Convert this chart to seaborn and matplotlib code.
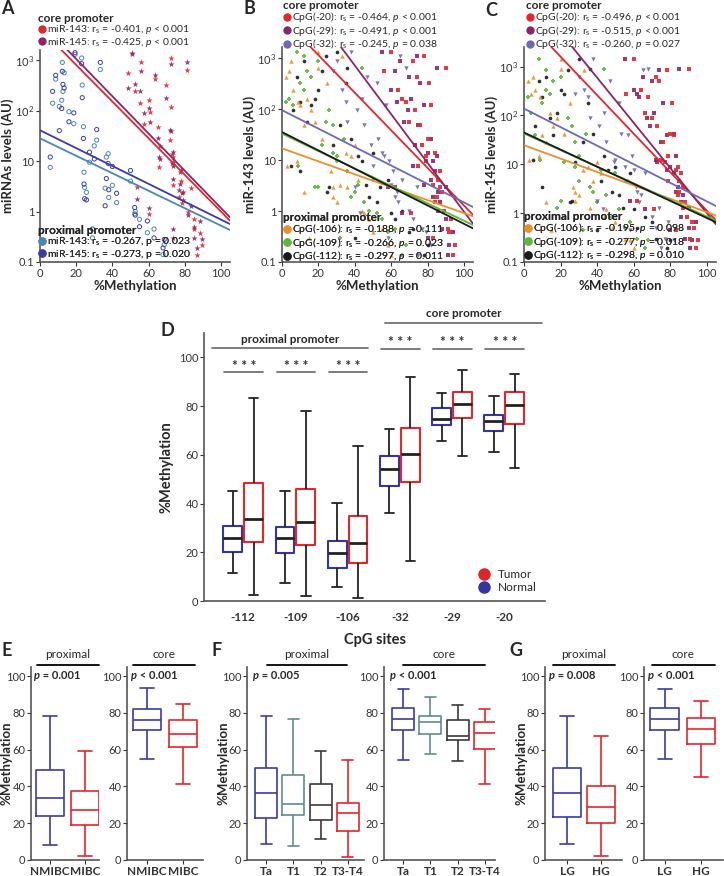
import matplotlib as mpl
mpl.use('Agg')

import matplotlib.pyplot as plt
import matplotlib.transforms as mtransforms
from matplotlib.lines import Line2D
import seaborn as sns
import pandas as pd
import numpy as np

sns.set_theme(style="ticks")
plt.rcParams['font.family'] = ['Lato', 'DejaVu Sans']
plt.rcParams['mathtext.fontset'] = 'custom'
plt.rcParams['mathtext.rm'] = 'Lato'
plt.rcParams['mathtext.it'] = 'Lato:italic'
plt.rcParams['mathtext.bf'] = 'Lato:bold'
plt.rcParams['axes.unicode_minus'] = False

m20 = [60, 72, 84, 88, 74, 93, 81, 86, 66, 79, 91, 70, 84, 64, 87, 95, 77, 82,
       56, 89, 80, 87, 73, 83, 92, 76, 85, 68, 94, 79, 62, 75, 90, 71, 83, 78]
m29 = [55, 65, 80, 86, 70, 90, 76, 82, 71, 83, 88, 67, 87, 60, 84, 92, 73, 78,
       62, 86, 82, 90, 69, 78, 94, 75, 83, 63, 91, 85, 58, 72, 85, 66, 80, 74]
m32 = [38, 30, 55, 63, 47, 72, 52, 66, 44, 59, 77, 36, 64, 33, 61, 82, 49, 57,
       28, 70, 53, 74, 41, 60, 79, 45, 62, 35, 75, 56, 40, 50, 68, 43, 58, 65]
m106 = [20, 5, 35, 12, 2, 48, 25, 42, 14, 8, 55, 18, 30, 6, 27, 58, 40, 10,
        4, 44, 22, 36, 16, 32, 50, 12, 28, 9, 60, 38, 28, 3, 20, 45, 15, 33]
m109 = [8, 20, 28, 40, 16, 55, 10, 50, 4, 30, 62, 24, 45, 12, 36, 68, 22, 6,
        14, 48, 34, 18, 26, 42, 58, 28, 38, 2, 66, 30, 20, 9, 44, 52, 32, 12]
m112 = [30, 12, 50, 25, 8, 62, 35, 58, 18, 44, 72, 14, 52, 20, 10, 80, 28, 16,
        22, 66, 38, 54, 6, 46, 70, 32, 48, 10, 78, 42, 26, 5, 36, 60, 40, 24]
mir143 = [1300, 900, 14, 2.4, 420, 0.7, 320, 4.0, 160, 9.5, 0.45, 55, 1.5, 240,
          6.0, 0.22, 20, 120, 560, 1.0, 26, 2.9, 95, 3.3, 0.38, 48, 1.9, 140,
          0.14, 12, 3.0, 7.5, 650, 0.9, 0.3, 1100]
mir145 = [1400, 600, 9, 1.7, 500, 0.5, 180, 6.5, 110, 15, 0.3, 90, 2.3, 330,
          3.5, 0.28, 11, 40, 280, 0.85, 42, 1.3, 60, 7.8, 0.65, 28, 2.7, 240,
          0.19, 4.5, 1.8, 12, 900, 1.2, 0.45, 850]

# ---- regression lines (log10 level = intercept + slope * %methylation)
fitA_int = [3.63, 3.76, 1.45, 1.61]
fitA_slope = [-0.0363, -0.0369, -0.0173, -0.0177]
fitB_int = [3.80, 4.77, 1.98, 1.23, 1.52, 1.55]
fitB_slope = [-0.0369, -0.0478, -0.0181, -0.0127, -0.0171, -0.0180]
fitC_int = [3.99, 4.62, 2.14, 1.39, 1.63, 1.65]
fitC_slope = [-0.0394, -0.0462, -0.0190, -0.0137, -0.0170, -0.0175]

legA_core = ['miR-143: r$_\\mathrm{s}$ = -0.401, $p$ < 0.001',
             'miR-145: r$_\\mathrm{s}$ = -0.425, $p$ < 0.001']
legA_prox = ['miR-143: r$_\\mathrm{s}$ = -0.267, p = 0.023',
             'miR-145: r$_\\mathrm{s}$ = -0.273, p = 0.020']
legB_core = ['CpG(-20): r$_\\mathrm{s}$ = -0.464, $p$ < 0.001',
             'CpG(-29): r$_\\mathrm{s}$ = -0.491, $p$ < 0.001',
             'CpG(-32): r$_\\mathrm{s}$ = -0.245, $p$ = 0.038']
legB_prox = ['CpG(-106): r$_\\mathrm{s}$ = -0.188, $p$ = 0.111',
             'CpG(-109): r$_\\mathrm{s}$ = -0.266, $p$ = 0.023',
             'CpG(-112): r$_\\mathrm{s}$ = -0.297, $p$ = 0.011']
legC_core = ['CpG(-20): r$_\\mathrm{s}$ = -0.496, $p$ < 0.001',
             'CpG(-29): r$_\\mathrm{s}$ = -0.515, $p$ < 0.001',
             'CpG(-32): r$_\\mathrm{s}$ = -0.260, $p$ = 0.027']
legC_prox = ['CpG(-106): r$_\\mathrm{s}$ = -0.195, $p$ = 0.098',
             'CpG(-109): r$_\\mathrm{s}$ = -0.277, $p$ = 0.018',
             'CpG(-112): r$_\\mathrm{s}$ = -0.298, $p$ = 0.010']

# ---- panel D box summaries: min, q1, median, q3, max
sites = ['-112', '-109', '-106', '-32', '-29', '-20']
normal_D = [[11.3, 20.2, 26.0, 30.8, 45.2], [7.2, 19.6, 25.7, 30.3, 45.2],
            [5.7, 13.4, 19.9, 24.5, 40.4], [36.2, 47.0, 54.2, 59.6, 70.5],
            [65.5, 72.1, 74.9, 79.2, 85.4], [61.1, 69.8, 73.8, 76.3, 84.1]]
tumor_D = [[2.4, 24.3, 33.5, 48.4, 83.5], [2.1, 22.8, 32.5, 45.9, 78.0],
           [1.4, 15.4, 23.8, 34.9, 63.5], [16.6, 48.7, 60.3, 70.9, 92.1],
           [59.7, 75.2, 80.8, 85.7, 94.9], [54.5, 72.6, 80.6, 85.8, 93.0]]

# ---- panels E-G box summaries
stage_E = ['NMIBC', 'MIBC']
E_prox = [[8.0, 24.0, 34.0, 48.8, 78.3], [2.2, 18.8, 27.0, 37.5, 59.3]]
E_core = [[55.0, 70.9, 76.3, 82.3, 93.5], [41.6, 61.3, 68.4, 75.9, 84.8]]
stage_F = ['Ta', 'T1', 'T2', 'T3-T4']
F_prox = [[8.7, 23.1, 36.2, 50.1, 78.3], [7.6, 24.4, 30.7, 46.5, 76.9],
          [11.2, 21.5, 29.7, 41.6, 59.3], [1.8, 15.7, 25.7, 31.1, 54.6]]
F_core = [[54.6, 70.7, 76.9, 82.6, 92.9], [57.9, 68.7, 74.9, 78.1, 88.6],
          [53.7, 65.5, 67.3, 75.9, 84.3], [41.2, 60.6, 69.1, 75.0, 82.1]]
grade_G = ['LG', 'HG']
G_prox = [[8.8, 23.5, 36.6, 50.1, 78.1], [2.2, 20.1, 28.9, 40.0, 67.3]]
G_core = [[54.8, 70.9, 76.7, 82.8, 93.0], [45.4, 63.2, 71.3, 77.2, 86.5]]

RED = '#e3262b'
PURPLE = '#8e2466'
SLATE = '#6a6ab8'
ORANGE = '#e8902a'
GREEN = '#5cb83a'
BLACK = '#1a1a1a'
STEEL = '#4a86b5'
NAVY = '#3b3ba6'
TEAL = '#5f8c8c'
DARK = '#3a3a3a'

W, H = 724, 876
fig = plt.figure(figsize=(W / 100, H / 100), dpi=100)


def px_axes(x0, y0, x1, y1):
    return fig.add_axes([x0 / W, 1 - y1 / H, (x1 - x0) / W, (y1 - y0) / H])


def style(ax):
    sns.despine(ax=ax)
    for s in ['left', 'bottom']:
        ax.spines[s].set_color('#555555')
        ax.spines[s].set_linewidth(1.2)
    ax.tick_params(colors='#333333', labelsize=8, length=3, width=0.8, pad=1)
    ax.grid(False)


def add_legend(ax, colors, labels, title, px, py):
    handles = [Line2D([], [], marker='o', ls='', color=c, ms=5) for c in colors]
    leg = ax.legend(handles, labels, title=title, loc='upper left',
                    bbox_to_anchor=(px / W, 1 - py / H), bbox_transform=fig.transFigure,
                    frameon=False, fontsize=7.5, handletextpad=0.1, handlelength=0.8,
                    borderpad=0, borderaxespad=0, labelspacing=-0.05,
                    title_fontproperties={'weight': 'bold', 'size': 8.5})
    leg._legend_box.align = 'left'
    ax.add_artist(leg)
    return leg


def scatter_panel(ax, series, ints, slopes, colors, ytop, ylabel):
    ax.set_yscale('log')
    for x, y, c, m, s, hollow in series:
        if hollow:
            sns.scatterplot(x=x, y=y, ax=ax, marker=m, s=s, color=c, facecolor='none',
                            edgecolor=c, linewidth=0.7, legend=False, zorder=2)
        else:
            sns.scatterplot(x=x, y=y, ax=ax, marker=m, s=s, color=c, linewidth=0,
                            alpha=0.9, legend=False, zorder=2)
    xx = np.array([0.0, 105.0])
    for a, b, c in zip(ints, slopes, colors):
        ax.plot(xx, 10 ** (a + b * xx), color=c, lw=1.3, zorder=3)
    ax.set_xlim(0, 105)
    ax.set_ylim(0.1, 10 ** ytop)
    ax.set_yticks([0.1, 1, 10, 100, 1000])
    ax.set_yticklabels(['0.1', '1', '10', '$10^2$', '$10^3$'])
    ax.yaxis.set_minor_locator(mpl.ticker.NullLocator())
    ax.set_xticks([0, 20, 40, 60, 80, 100])
    style(ax)
    ax.set_xlabel('%Methylation', fontweight='bold', fontsize=9.5, labelpad=1)
    ax.set_ylabel(ylabel, fontweight='bold', fontsize=9.5, labelpad=1)


core_mean = np.mean(np.vstack([m20, m29, m32]), axis=0)
prox_mean = np.mean(np.vstack([m106, m109, m112]), axis=0)

# ---------------- A
axA = px_axes(40, 50, 230, 262)
scatter_panel(axA,
              [(prox_mean, mir143, STEEL, 'o', 9, True),
               (prox_mean, mir145, NAVY, 'o', 9, True),
               (core_mean, mir143, RED, '*', 22, False),
               (core_mean, mir145, PURPLE, '*', 22, False)],
              fitA_int, fitA_slope, [RED, PURPLE, STEEL, NAVY], 3.2, 'miRNAs levels (AU)')
add_legend(axA, [RED, PURPLE], legA_core, 'core promoter', 38, 13)
add_legend(axA, [STEEL, NAVY], legA_prox, 'proximal promoter', 38, 225)

# ---------------- B and C
cpg_meth = [m20, m29, m32, m106, m109, m112]
cpg_colors = [RED, PURPLE, SLATE, ORANGE, GREEN, BLACK]
cpg_markers = ['s', 's', 'v', '^', 'P', 'o']
cpg_sizes = [7, 7, 10, 10, 12, 7]

axB = px_axes(282, 47, 473, 262)
scatter_panel(axB, [(m, mir143, c, mk, s, False) for m, c, mk, s in
                    zip(cpg_meth[::-1], cpg_colors[::-1], cpg_markers[::-1], cpg_sizes[::-1])],
              fitB_int, fitB_slope, cpg_colors, 3.22, 'miR-143 levels (AU)')
add_legend(axB, cpg_colors[:3], legB_core, 'core promoter', 283, 0)
add_legend(axB, cpg_colors[3:], legB_prox, 'proximal promoter', 283, 212)

axC = px_axes(524, 47, 716, 262)
scatter_panel(axC, [(m, mir145, c, mk, s, False) for m, c, mk, s in
                    zip(cpg_meth[::-1], cpg_colors[::-1], cpg_markers[::-1], cpg_sizes[::-1])],
              fitC_int, fitC_slope, cpg_colors, 3.4, 'miR-145 levels (AU)')
add_legend(axC, cpg_colors[:3], legC_core, 'core promoter', 526, 0)
add_legend(axC, cpg_colors[3:], legC_prox, 'proximal promoter', 524, 211)

# ---------------- D
rows = []
for site, nst, tst in zip(sites, normal_D, tumor_D):
    rows += [(site, 'Normal', v) for v in nst]
    rows += [(site, 'Tumor', v) for v in tst]
dfD = pd.DataFrame(rows, columns=['site', 'group', 'value'])

axD = px_axes(204, 333, 545, 601)
sns.boxplot(data=dfD, x='site', y='value', hue='group', order=sites,
            hue_order=['Normal', 'Tumor'], palette={'Normal': '#3535a0', 'Tumor': '#e0282c'},
            fill=False, whis=(0, 100), width=0.8, gap=0.1, linewidth=1.5,
            showfliers=False, legend=False, ax=axD)
# whiskers, caps and medians in black; boxes keep their group colour
for ln in axD.lines:
    xd, yd = np.asarray(ln.get_xdata()), np.asarray(ln.get_ydata())
    if len(xd) == 2:
        ln.set_color('#222222')
        ln.set_linewidth(1.3)
        if yd[0] == yd[1] and abs(xd[1] - xd[0]) > 0.3:
            ln.set_linewidth(2.0)
axD.set_xlim(-0.75, 5.78)
axD.set_ylim(0, 110)
axD.set_yticks([0, 20, 40, 60, 80, 100])
style(axD)
axD.set_xticks(range(len(sites)), sites, fontweight='bold', fontsize=8.5)
axD.tick_params(axis='x', length=0, pad=8)
axD.set_xlabel('CpG sites', fontweight='bold', fontsize=10.5, labelpad=7)
axD.set_ylabel('%Methylation', fontweight='bold', fontsize=10.5, labelpad=4)

for i in range(6):
    ys, yt = (93.8, 96.4) if i < 3 else (103.3, 106.2)
    axD.plot([i - 0.36, i + 0.38], [ys, ys], color='#666666', lw=1.2, clip_on=False)
    axD.text(i + 0.01, yt, '* * *', ha='center', va='center', fontsize=10,
             fontweight='bold', color='#333333')
axD.plot([-0.59, 2.39], [103.7, 103.7], color='#666666', lw=1.2, clip_on=False)
axD.text(0.9, 107.4, 'proximal promoter', ha='center', va='center', fontsize=8.5,
         fontweight='bold', clip_on=False)
axD.plot([2.72, 5.73], [114.2, 114.2], color='#666666', lw=1.2, clip_on=False)
axD.text(4.22, 117.8, 'core promoter', ha='center', va='center', fontsize=8.5,
         fontweight='bold', clip_on=False)
dh = [Line2D([], [], marker='o', ls='', color='#d8262b', ms=8),
      Line2D([], [], marker='o', ls='', color='#3535a0', ms=8)]
axD.legend(dh, ['Tumor', 'Normal'], loc='lower right', frameon=False, fontsize=8.5,
           handletextpad=0.2, labelspacing=0.15, borderaxespad=0.3)


# ---------------- E, F, G
def box_panel(box, cats, stats, colors, header, hx, ptext, xlim, ylabel):
    ax = px_axes(*box)
    df = pd.DataFrame([(c, v) for c, st in zip(cats, stats) for v in st],
                      columns=['group', 'value'])
    sns.boxplot(data=df, x='group', y='value', hue='group', order=cats, hue_order=cats,
                palette=dict(zip(cats, colors)), fill=False, whis=(0, 100), width=0.8,
                linewidth=1.2, showfliers=False, legend=False, ax=ax)
    ax.set_xlim(*xlim)
    ax.set_ylim(0, 105)
    ax.set_yticks([0, 20, 40, 60, 80, 100])
    style(ax)
    ax.set_xticks(range(len(cats)), cats, fontweight='bold', fontsize=8.5)
    ax.tick_params(axis='x', length=3)
    ax.set_xlabel('')
    if ylabel:
        ax.set_ylabel('%Methylation', fontweight='bold', fontsize=9.5)
        # label sits just left of the tick labels, 18 px from the axis line
        ax.yaxis.set_label_coords(-18 / (box[2] - box[0]), 0.5)
    else:
        ax.set_ylabel('')
    tr = mtransforms.blended_transform_factory(ax.transData, ax.transAxes)
    ax.plot(hx, [1.01, 1.01], color='black', lw=1.3, transform=tr, clip_on=False)
    ax.text(np.mean(hx), 1.065, header, ha='center', va='center', fontsize=8.5,
            transform=tr)
    t = ax.text(0.05, 0.925, 'p', transform=ax.transAxes, fontsize=8,
                fontweight='bold', fontstyle='italic', va='bottom', ha='left')
    ax.annotate(ptext, xy=(1, 0), xycoords=t, va='bottom', ha='left', fontsize=8,
                fontweight='bold')
    return ax


box_panel((31, 667, 99, 860), stage_E, E_prox, [NAVY, RED], 'proximal', [-0.37, 1.4],
          ' = 0.001', (-0.55, 1.4), True)
box_panel((127, 667, 203, 860), stage_E, E_core, [NAVY, RED], 'core', [-0.39, 1.33],
          ' < 0.001', (-0.56, 1.56), False)
box_panel((247, 667, 364, 860), stage_F, F_prox, [NAVY, TEAL, DARK, RED], 'proximal',
          [0.04, 2.97], ' = 0.005', (-0.7, 3.59), True)
box_panel((384, 667, 495, 860), stage_F, F_core, [NAVY, TEAL, DARK, RED], 'core',
          [0.0, 3.0], ' < 0.001', (-0.7, 3.37), False)
box_panel((545, 667, 622, 860), grade_G, G_prox, [NAVY, RED], 'proximal', [-0.41, 1.41],
          ' = 0.008', (-0.65, 1.62), True)
box_panel((644, 667, 723, 860), grade_G, G_core, [NAVY, RED], 'core', [-0.36, 1.39],
          ' < 0.001', (-0.58, 1.61), False)

# ---------------- panel letters
for lab, px, py in [('A', 7, 9), ('B', 249, 9), ('C', 491, 11), ('D', 167, 330),
                    ('E', 7, 651), ('F', 217, 651), ('G', 516, 651)]:
    fig.text(px / W, 1 - py / H, lab, fontsize=13, fontweight='bold', ha='center', va='center')

plt.savefig('out.png', dpi=100)
